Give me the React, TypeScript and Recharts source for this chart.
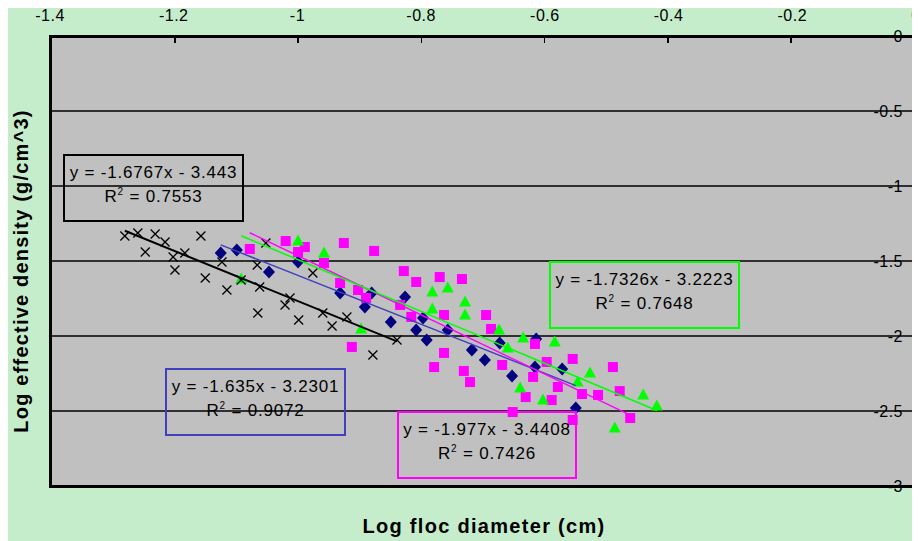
import { CartesianGrid, Scatter, ScatterChart, XAxis, YAxis } from "recharts";

const X_TICKS = [-1.4, -1.2, -1, -0.8, -0.6, -0.4, -0.2, 0];
const Y_TICKS = [0, -0.5, -1, -1.5, -2, -2.5, -3];

// black crosses
const crossX = [-1.279, -1.258, -1.23, -1.214, -1.156, -1.246, -1.201, -1.182, -1.198, -1.149, -1.122, -1.114, -1.091, -1.065, -1.061, -1.064, -1.051, -1.012, -1.02, -0.998, -0.975, -0.959, -0.944, -0.92, -0.878, -0.839];
const crossY = [-1.333, -1.313, -1.32, -1.373, -1.333, -1.44, -1.473, -1.447, -1.56, -1.613, -1.507, -1.693, -1.627, -1.527, -1.673, -1.847, -1.38, -1.747, -1.793, -1.893, -1.58, -1.847, -1.933, -1.873, -2.127, -2.027];

// navy diamonds
const diamondX = [-1.124, -1.098, -1.046, -0.999, -0.931, -0.891, -0.88, -0.826, -0.849, -0.808, -0.797, -0.791, -0.757, -0.718, -0.697, -0.673, -0.653, -0.614, -0.616, -0.572, -0.55];
const diamondY = [-1.447, -1.427, -1.573, -1.507, -1.713, -1.807, -1.713, -1.74, -1.907, -1.96, -1.88, -2.027, -1.96, -2.093, -2.16, -2.047, -2.267, -2.02, -2.207, -2.22, -2.48];

// magenta squares
const squareX = [-1.077, -1.019, -0.999, -0.988, -0.925, -0.876, -0.957, -0.931, -0.902, -0.889, -0.828, -0.808, -0.834, -0.816, -0.912, -0.77, -0.734, -0.763, -0.695, -0.687, -0.763, -0.779, -0.731, -0.721, -0.669, -0.619, -0.631, -0.652, -0.616, -0.555, -0.49, -0.597, -0.579, -0.54, -0.514, -0.479, -0.589, -0.462, -0.555];
const squareY = [-1.42, -1.367, -1.44, -1.407, -1.38, -1.433, -1.513, -1.647, -1.693, -1.747, -1.567, -1.64, -1.793, -1.873, -2.073, -1.607, -1.62, -1.86, -1.86, -1.953, -2.113, -2.207, -2.233, -2.307, -2.193, -2.273, -2.407, -2.507, -2.053, -2.153, -2.207, -2.173, -2.34, -2.387, -2.393, -2.367, -2.427, -2.547, -2.56];

// green triangles
const triX = [-0.999, -1.091, -0.957, -0.897, -0.782, -0.757, -0.729, -0.729, -0.782, -0.674, -0.635, -0.66, -0.64, -0.603, -0.584, -0.547, -0.527, -0.441, -0.419, -0.487];
const triY = [-1.367, -1.62, -1.447, -1.953, -1.707, -1.68, -1.773, -1.86, -1.82, -1.96, -2.013, -2.08, -2.347, -2.427, -2.04, -2.307, -2.247, -2.393, -2.467, -2.613];

// trendline slope / intercept, as printed in the boxes
const crossFit = [-1.6767, -3.443];
const diamondFit = [-1.635, -3.2301];
const squareFit = [-1.977, -3.4408];
const triFit = [-1.7326, -3.2223];

const FONT = '"Liberation Sans", Arial, sans-serif';
// plot box inside the chart
const PLOT = { left: 42, top: 28, width: 866, height: 450 };

const pts = (xs: number[], ys: number[]) => xs.map((x, i) => ({ x, y: ys[i] }));
const trend = (xs: number[], fit: number[]) => {
  const lo = Math.min(...xs);
  const hi = Math.max(...xs);
  return [lo, hi].map((x) => ({ x, y: fit[0] * x + fit[1] }));
};

const Cross = (p: any) => (
  <path
    d={`M${p.cx - 4.5},${p.cy - 4.5}L${p.cx + 4.5},${p.cy + 4.5}M${p.cx - 4.5},${p.cy + 4.5}L${p.cx + 4.5},${p.cy - 4.5}`}
    stroke="#000"
    strokeWidth={1.3}
    fill="none"
  />
);
const Diamond = (p: any) => (
  <path d={`M${p.cx},${p.cy - 6.5}L${p.cx + 6},${p.cy}L${p.cx},${p.cy + 6.5}L${p.cx - 6},${p.cy}Z`} fill="#000080" />
);
const Square = (p: any) => <rect x={p.cx - 5} y={p.cy - 5} width={10} height={10} fill="#FF00FF" />;
const Triangle = (p: any) => (
  <path d={`M${p.cx},${p.cy - 6.5}L${p.cx + 6},${p.cy + 4.5}L${p.cx - 6},${p.cy + 4.5}Z`} fill="#00FF00" />
);
const NoDot = () => <g />;

// top axis labels (tick marks drawn by the frame overlay)
const XTick = (p: any) => (
  <text x={p.x} y={13} textAnchor="middle" fill="#000" fontSize={16} fontFamily={FONT} letterSpacing={0.5}>
    {p.payload.value}
  </text>
);

// right axis: labels sit inside the plot, on the gridlines
const YTick = (p: any) => (
  <text x={p.x - 13} y={p.y} dy={6} textAnchor="end" fill="#000" fontSize={16} fontFamily={FONT} letterSpacing={0.5}>
    {p.payload.value}
  </text>
);

function FitBox(props: { left: number; top: number; width: number; color: string; eq: string; r2: string }) {
  return (
    <div
      style={{
        position: "absolute",
        left: props.left,
        top: props.top,
        width: props.width,
        height: 68,
        boxSizing: "border-box",
        border: `2px solid ${props.color}`,
        paddingTop: 5,
        textAlign: "center",
        fontFamily: FONT,
        fontSize: 17,
        letterSpacing: 0.8,
        lineHeight: "24px",
        color: "#000",
      }}
    >
      <div>{props.eq}</div>
      <div>
        R<span style={{ fontSize: 10, position: "relative", top: -7 }}>2</span> = {props.r2}
      </div>
    </div>
  );
}

export default function App() {
  return (
    <div style={{ position: "relative", width: 912, height: 533, background: "#C6EDCB", fontFamily: FONT }}>
      {/* grey plot background, behind the svg */}
      <div style={{ position: "absolute", ...PLOT, background: "#C0C0C0" }} />
      <ScatterChart width={912} height={533} margin={{ top: 0, right: 3, bottom: 55, left: 42 }}>
        <CartesianGrid vertical={false} stroke="#000" strokeWidth={1.5} />
        <XAxis
          type="number"
          dataKey="x"
          orientation="top"
          height={PLOT.top}
          domain={[-1.4, 0]}
          ticks={X_TICKS}
          interval={0}
          allowDataOverflow
          axisLine={false}
          tickLine={false}
          tick={XTick}
        />
        <YAxis
          type="number"
          dataKey="y"
          orientation="right"
          width={1}
          domain={[-3, 0]}
          ticks={Y_TICKS}
          interval={0}
          allowDataOverflow
          axisLine={false}
          tickLine={false}
          tickSize={0}
          tickMargin={0}
          tick={YTick}
        />
        <Scatter data={pts(diamondX, diamondY)} shape={Diamond} isAnimationActive={false} />
        <Scatter data={pts(squareX, squareY)} shape={Square} isAnimationActive={false} />
        <Scatter data={pts(triX, triY)} shape={Triangle} isAnimationActive={false} />
        <Scatter data={pts(crossX, crossY)} shape={Cross} isAnimationActive={false} />
        <Scatter data={trend(crossX, crossFit)} line={{ stroke: "#000", strokeWidth: 2 }} shape={NoDot} isAnimationActive={false} />
        <Scatter data={trend(diamondX, diamondFit)} line={{ stroke: "#3F3FBF", strokeWidth: 1.5 }} shape={NoDot} isAnimationActive={false} />
        <Scatter data={trend(squareX, squareFit)} line={{ stroke: "#FF00FF", strokeWidth: 1.5 }} shape={NoDot} isAnimationActive={false} />
        <Scatter data={trend(triX, triFit)} line={{ stroke: "#00FF00", strokeWidth: 1.5 }} shape={NoDot} isAnimationActive={false} />
      </ScatterChart>

      {/* plot frame with the inward tick marks of the top axis */}
      <div
        style={{
          position: "absolute",
          left: PLOT.left - 1.5,
          top: PLOT.top - 1.5,
          width: PLOT.width + 3,
          height: PLOT.height + 3,
          boxSizing: "border-box",
          border: "3px solid #000",
          pointerEvents: "none",
        }}
      >
        {X_TICKS.slice(1, -1).map((t) => (
          <div
            key={t}
            style={{
              position: "absolute",
              left: `${((t + 1.4) / 1.4) * 100}%`,
              top: 0,
              width: 1.5,
              height: 5,
              marginLeft: -0.75,
              background: "#000",
            }}
          />
        ))}
      </div>

      <FitBox left={55} top={146} width={181} color="#000" eq="y = -1.6767x - 3.443" r2="0.7553" />
      <FitBox left={157} top={360} width={181} color="#3F3FBF" eq="y = -1.635x - 3.2301" r2="0.9072" />
      <FitBox left={389} top={403} width={180} color="#FF00FF" eq="y = -1.977x - 3.4408" r2="0.7426" />
      <FitBox left={541} top={253} width={191} color="#00FF00" eq="y = -1.7326x - 3.2223" r2="0.7648" />

      <div
        style={{
          position: "absolute",
          left: 13,
          top: 263,
          transform: "translate(-50%, -50%) rotate(-90deg)",
          whiteSpace: "nowrap",
          fontWeight: "bold",
          fontSize: 20,
          letterSpacing: 1.2,
        }}
      >
        Log effective density (g/cm^3)
      </div>
      <div
        style={{
          position: "absolute",
          left: 476,
          top: 518,
          transform: "translate(-50%, -50%)",
          whiteSpace: "nowrap",
          fontWeight: "bold",
          fontSize: 20,
          letterSpacing: 1.3,
        }}
      >
        Log floc diameter (cm)
      </div>
    </div>
  );
}
